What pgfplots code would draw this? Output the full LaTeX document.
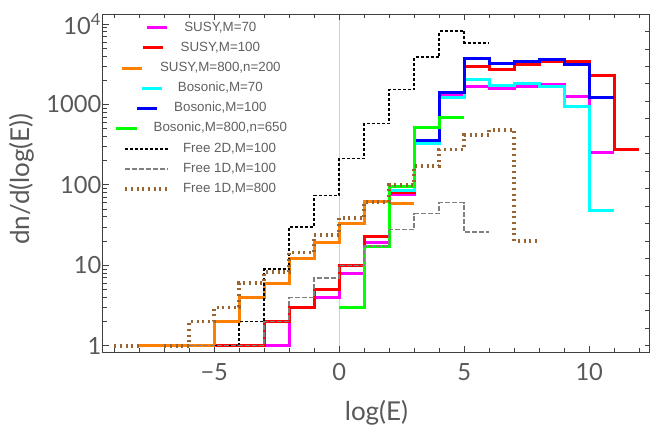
\documentclass[border=0pt]{standalone}
\usepackage{fontspec}
\setmainfont{Lato}
\newfontfamily\legfont{Liberation Sans}
\usepackage{pgfplots}
\pgfplotsset{compat=1.18}
\definecolor{tickgray}{HTML}{595959}
\definecolor{leggray}{HTML}{606060}
\definecolor{framegray}{HTML}{404040}
\definecolor{mmorange}{RGB}{255,128,0}
\definecolor{mmbrown}{RGB}{153,102,51}
\definecolor{mmgray}{HTML}{808080}
\definecolor{mmmagenta}{RGB}{255,0,255}
\definecolor{mmcyan}{RGB}{0,255,255}
\definecolor{mmred}{RGB}{255,0,0}
\definecolor{mmblue}{RGB}{0,0,255}
\definecolor{mmgreen}{RGB}{0,255,0}
\newcommand\legentry[1]{\makebox[80.4pt][c]{\legfont\fontsize{8}{9.6}\selectfont\color{leggray}#1}}
\newcommand\legentryd[1]{\makebox[80.4pt][c]{\hspace{11pt}\legfont\fontsize{8}{9.6}\selectfont\color{leggray}#1}}
\pgfplotsset{
  leg/.style 2 args={legend image code/.code={\path[draw=none] (0pt,0pt) -- (20.4pt,0pt);\draw[##1, overlay] (#1,0pt) -- (#2,0pt);}},
}
\begin{document}
\begin{tikzpicture}
\begin{axis}[
  scale only axis, width=328.2pt, height=202.8pt,
  xmin=-9.45, xmax=12.43, ymode=log, ymin=0.835, ymax=13360,
  xtick={-5,0,5,10}, xticklabels={−5,0,5,10},
  minor xtick={-9,-8,-7,-6,-4,-3,-2,-1,1,2,3,4,6,7,8,9,11,12},
  ytick={1,10,100,1000,10000}, yticklabels={1,10,100,1000,10\textsuperscript{4}},
  minor ytick={2,3,4,5,6,7,8,9,20,30,40,50,60,70,80,90,200,300,400,500,600,700,800,900,2000,3000,4000,5000,6000,7000,8000,9000},
  ytick pos=left, xtick pos=both,
  major tick length=3.8pt, minor tick length=2.2pt,
  tick style={framegray, line width=0.5pt},
  axis line style={framegray, line width=0.6pt},
  ticklabel style={font=\fontsize{14.2}{16}\selectfont, text=tickgray},
  xticklabel style={yshift=-3.5pt}, yticklabel style={xshift=2.5pt},
  xlabel={log(E)}, ylabel={dn/d(log(E))},
  label style={font=\fontsize{15.6}{18}\selectfont, text=tickgray},
  xlabel style={at={(axis description cs:0.5,-0.18)}, anchor=center},
  ylabel style={at={(axis description cs:-0.148,0.512)}, anchor=center},
  extra x ticks={0}, extra x tick labels={}, extra x tick style={grid=major},
  major grid style={black!18, line width=0.4pt},
  clip=false,
  legend style={draw=none, fill=none, at={(rel axis cs:0.0238,0.98)}, anchor=north west,
    inner sep=0pt, row sep=4.1pt, column sep=1.8pt,
    nodes={inner sep=0pt, text height=6pt, text depth=2pt}},
]
\coordinate (BL) at (rel axis cs:-0.1883,-0.23669);
\coordinate (TR) at (rel axis cs:1.02194,1.04142);

\addplot[const plot mark left, mmmagenta, line width=1.8pt, leg={18.6pt}{30.6pt}] coordinates {
(-5,1) (-2,3) (-1,4) (0,8) (1,19) (2,75) (3,335) (4,1300) (5,1683) (6,1574) (7,1698) (8,1780) (9,1276) (10,250) (11,250)};
\addlegendentry{\legentry{SUSY,M=70}}
\addplot[const plot mark left, mmred, line width=1.8pt, leg={16.2pt}{28.2pt}] coordinates {
(-5,1) (-3,2) (-2,3) (-1,5) (0,10) (1,23) (2,80) (3,359) (4,1430) (5,2985) (6,2713) (7,3127) (8,3443) (9,3443) (10,2306) (11,278) (12,278)};
\addlegendentry{\legentry{SUSY,M=100}}
\addplot[const plot mark left, mmorange, line width=1.8pt, leg={3.6pt}{15.6pt}] coordinates {
(-8,1) (-5,2) (-4,4) (-3,6) (-2,12) (-1,19) (0,33) (1,63) (2,59) (3,59)};
\addlegendentry{\legentry{SUSY,M=800,n=200}}
\addplot[const plot mark left, mmcyan, line width=1.8pt, leg={15.6pt}{27.6pt}] coordinates {
(2,86) (3,327) (4,1240) (5,2075) (6,1733) (7,1834) (8,1683) (9,958) (10,47.5) (11,47.5)};
\addlegendentry{\legentry{Bosonic,M=70}}
\addplot[const plot mark left, mmblue, line width=1.8pt, leg={12.6pt}{24.6pt}] coordinates {
(3,355) (4,1393) (5,3715) (6,3222) (7,3470) (8,3675) (9,3160) (10,1240) (11,1240)};
\addlegendentry{\legentry{Bosonic,M=100}}
\addplot[const plot mark left, mmgreen, line width=1.8pt, leg={0pt}{12.6pt}] coordinates {
(0,3) (1,17) (2,95) (3,517) (4,680) (5,680)};
\addlegendentry{\legentry{Bosonic,M=800,n=650}}
\addplot[const plot mark left, black, line width=0.9pt, dash pattern=on 1.8pt off 1.2pt, leg={5.4pt}{31.2pt}] coordinates {
(-5,1) (-4,2) (-3,9) (-2,30) (-1,74) (0,213) (1,579) (2,1531) (3,3890) (4,8190) (5,5800) (6,5800)};
\addlegendentry{\legentryd{Free 2D,M=100}}
\addplot[const plot mark left, mmgray, line width=0.9pt, dash pattern=on 3pt off 1.2pt, leg={5.4pt}{31.2pt}] coordinates {
(-6,1) (-3,2) (-2,4) (-1,7) (0,10) (1,17.5) (2,28) (3,44) (4,60) (5,26) (6,26)};
\addlegendentry{\legentryd{Free 1D,M=100}}
\addplot[const plot mark left, mmbrown, line width=2.2pt, dash pattern=on 1.2pt off 2.2pt, leg={5.4pt}{31.2pt}] coordinates {
(-7,1) (-6,2) (-5,3) (-4,6) (-3,8.2) (-2,14.4) (-1,23.7) (0,38.5) (1,61.5) (2,100) (3,171) (4,275) (5,414) (6,479) (7,20) (8,20)};
\addlegendentry{\legentryd{Free 1D,M=800}}
\addplot[const plot mark left, mmbrown, line width=2.2pt, dash pattern=on 1.2pt off 2.2pt, forget plot] coordinates {
(-9,1) (-8,1)};
\end{axis}
\begin{axis}[
  scale only axis, width=328.2pt, height=202.8pt,
  xmin=-9.45, xmax=12.43, ymode=log, ymin=0.835, ymax=13360,
  xtick=\empty, ytick pos=right, yticklabels={},
  ytick={1,1.6487,2.7183,4.4817,7.3891,12.1825,20.0855,33.1155,54.5982,90.0171,148.4132,244.6919,403.4288,665.1416,1096.6332,1808.0424,2980.958,4914.7688,8103.0839},
  minor y tick style={draw=none},
  major tick length=3pt,
  tick style={framegray, line width=0.5pt},
  axis line style={draw=none},
]
\end{axis}
\pgfresetboundingbox
\path[use as bounding box] (BL) rectangle (TR);
\end{tikzpicture}
\end{document}
